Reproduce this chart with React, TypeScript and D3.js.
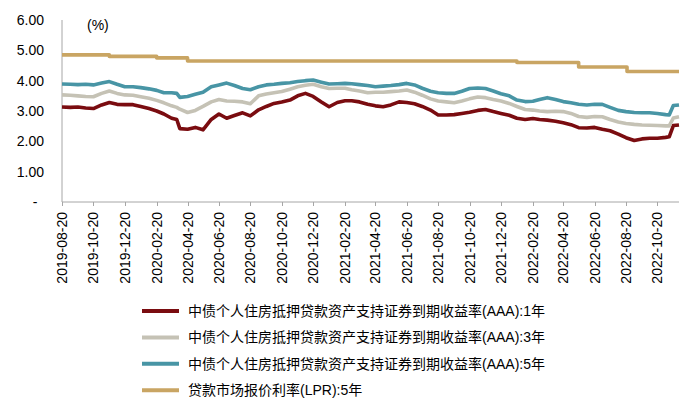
import React from "react";
import * as d3 from "d3";

const dates = [
  "2019-08-20","2019-09-05","2019-09-20","2019-10-05","2019-10-20","2019-11-05","2019-11-20","2019-12-05","2019-12-20",
  "2020-01-05","2020-01-20","2020-02-05","2020-02-20","2020-03-05","2020-03-20","2020-03-30","2020-04-05","2020-04-20","2020-05-05","2020-05-20","2020-06-05","2020-06-20","2020-07-05","2020-07-20","2020-08-05","2020-08-20","2020-09-05","2020-09-20","2020-10-05","2020-10-20","2020-11-05","2020-11-20","2020-12-05","2020-12-20",
  "2021-01-05","2021-01-20","2021-02-05","2021-02-20","2021-03-05","2021-03-20","2021-04-05","2021-04-20","2021-05-05","2021-05-20","2021-06-05","2021-06-20","2021-07-05","2021-07-20","2021-08-05","2021-08-20","2021-09-05","2021-09-20","2021-10-05","2021-10-20","2021-11-05","2021-11-20","2021-12-05","2021-12-20",
  "2022-01-05","2022-01-20","2022-02-05","2022-02-20","2022-03-05","2022-03-20","2022-04-05","2022-04-20","2022-05-05","2022-05-20","2022-06-05","2022-06-20","2022-07-05","2022-07-20","2022-08-05","2022-08-20","2022-09-05","2022-09-20","2022-10-05","2022-10-20","2022-11-05","2022-11-12","2022-11-20","2022-12-01",
];

const abs1Y = [
  3.13,3.12,3.13,3.10,3.08,3.20,3.28,3.22,3.21,
  3.21,3.15,3.08,3.00,2.90,2.76,2.72,2.42,2.40,2.46,2.38,2.72,2.90,2.76,2.85,2.94,2.84,3.04,3.15,3.25,3.30,3.36,3.50,3.58,3.48,
  3.30,3.14,3.28,3.34,3.34,3.30,3.22,3.17,3.14,3.20,3.30,3.28,3.24,3.15,3.03,2.87,2.87,2.88,2.92,2.96,3.02,3.05,2.98,2.92,
  2.86,2.76,2.72,2.75,2.72,2.70,2.66,2.61,2.55,2.45,2.44,2.46,2.40,2.35,2.24,2.12,2.03,2.08,2.10,2.10,2.13,2.15,2.52,2.54,
];

const abs3Y = [
  3.53,3.52,3.50,3.48,3.47,3.58,3.66,3.58,3.53,
  3.52,3.47,3.42,3.35,3.27,3.17,3.12,3.06,2.95,3.02,3.15,3.30,3.38,3.33,3.32,3.30,3.24,3.50,3.56,3.60,3.64,3.72,3.80,3.85,3.88,
  3.80,3.74,3.75,3.75,3.70,3.66,3.60,3.62,3.62,3.64,3.66,3.69,3.62,3.52,3.40,3.33,3.30,3.27,3.33,3.40,3.46,3.44,3.38,3.33,
  3.25,3.15,3.05,3.03,3.00,2.98,2.99,2.98,2.92,2.82,2.79,2.82,2.81,2.72,2.64,2.59,2.56,2.54,2.53,2.52,2.51,2.51,2.77,2.81,
];

const abs5Y = [
  3.89,3.88,3.87,3.88,3.86,3.92,3.97,3.88,3.80,
  3.80,3.77,3.73,3.68,3.60,3.60,3.58,3.45,3.48,3.55,3.62,3.80,3.86,3.92,3.84,3.74,3.70,3.80,3.86,3.88,3.91,3.93,3.97,4.00,4.02,
  3.95,3.89,3.90,3.91,3.90,3.87,3.84,3.80,3.82,3.84,3.87,3.91,3.86,3.75,3.65,3.60,3.58,3.58,3.65,3.74,3.76,3.74,3.66,3.57,
  3.50,3.36,3.31,3.32,3.38,3.44,3.38,3.31,3.27,3.22,3.20,3.22,3.22,3.12,3.02,2.98,2.95,2.94,2.94,2.92,2.88,2.87,3.18,3.20,
];

const lprDates = ["2019-08-20","2019-11-20","2020-02-20","2020-04-20","2022-01-20","2022-05-20","2022-08-22","2022-12-01"];
const lpr5Y = [4.85,4.80,4.75,4.65,4.60,4.45,4.30,4.30];

const xTickLabels = [
  "2019-08-20","2019-10-20","2019-12-20","2020-02-20","2020-04-20","2020-06-20","2020-08-20","2020-10-20","2020-12-20",
  "2021-02-20","2021-04-20","2021-06-20","2021-08-20","2021-10-20","2021-12-20","2022-02-20","2022-04-20","2022-06-20","2022-08-20","2022-10-20",
];
const yTicks = [0, 1, 2, 3, 4, 5, 6];

const seriesNames = [
  "中债个人住房抵押贷款资产支持证券到期收益率(AAA):1年",
  "中债个人住房抵押贷款资产支持证券到期收益率(AAA):3年",
  "中债个人住房抵押贷款资产支持证券到期收益率(AAA):5年",
  "贷款市场报价利率(LPR):5年",
];
const colors = ["#7A0C10", "#C5C2B5", "#4895A5", "#C9A563"];

const FONT = "'Liberation Sans', Arial, 'Noto Sans CJK SC', sans-serif";

export default function App() {
  const W = 700, H = 414;
  const left = 62, right = 679, top = 20, bottom = 202;
  const parse = d3.timeParse("%Y-%m-%d");
  const x = d3.scaleTime().domain([parse("2019-08-20")!, parse("2022-12-01")!]).range([left, right]);
  const y = d3.scaleLinear().domain([0, 6]).range([bottom, top]);

  const pts = (vals: number[], ds: string[]) => vals.map((v, i) => [x(parse(ds[i])!), y(v)] as [number, number]);
  const line = d3.line<[number, number]>().x(d => d[0]).y(d => d[1]);
  const stepLine = d3.line<[number, number]>().x(d => d[0]).y(d => d[1]).curve(d3.curveStepAfter);

  const paths = [
    { d: line(pts(abs1Y, dates)), c: colors[0] },
    { d: line(pts(abs3Y, dates)), c: colors[1] },
    { d: line(pts(abs5Y, dates)), c: colors[2] },
    { d: stepLine(pts(lpr5Y, lprDates)), c: colors[3] },
  ];

  const legendY0 = 311, legendStep = 26.4;

  return (
    <svg width={W} height={H} style={{ position: "absolute", left: 0, top: 0, background: "#fff" }} fontFamily={FONT}>
      <rect width={W} height={H} fill="#fff" />
      {/* axes */}
      <line x1={left} x2={left} y1={top} y2={bottom} stroke="#A6A6A6" strokeWidth={1} />
      <line x1={left} x2={right} y1={bottom} y2={bottom} stroke="#A6A6A6" strokeWidth={1} />
      {xTickLabels.map(t => {
        const xx = Math.round(x(parse(t)!)) + 0.5;
        return (
          <g key={t}>
            <line x1={xx} x2={xx} y1={bottom} y2={bottom + 4} stroke="#A6A6A6" />
            <text transform={`translate(${xx},212) rotate(-90)`} textAnchor="end" dy="0.35em" fontSize={14} fill="#000">{t}</text>
          </g>
        );
      })}
      {yTicks.map(v => (
        v === 0 ? (
          <text key={v} x={35} y={y(v)} dy="0.35em" textAnchor="middle" fontSize={14} fill="#000">-</text>
        ) : (
          <text key={v} x={44} y={y(v)} dy="0.35em" textAnchor="end" fontSize={14} fill="#000">{v.toFixed(2)}</text>
        )
      ))}
      <text x={87} y={25} dy="0.35em" fontSize={14} fill="#000">(%)</text>
      {paths.map((p, i) => (
        <path key={i} d={p.d || ""} fill="none" stroke={p.c} strokeWidth={3.6} strokeLinejoin="round" />
      ))}
      {/* legend */}
      {seriesNames.map((n, i) => {
        const ly = legendY0 + i * legendStep;
        return (
          <g key={n}>
            <line x1={142} x2={179} y1={ly} y2={ly} stroke={colors[i]} strokeWidth={4} />
            <text x={188} y={ly} dy="0.35em" fontSize={14} fill="#000">{n}</text>
          </g>
        );
      })}
    </svg>
  );
}
